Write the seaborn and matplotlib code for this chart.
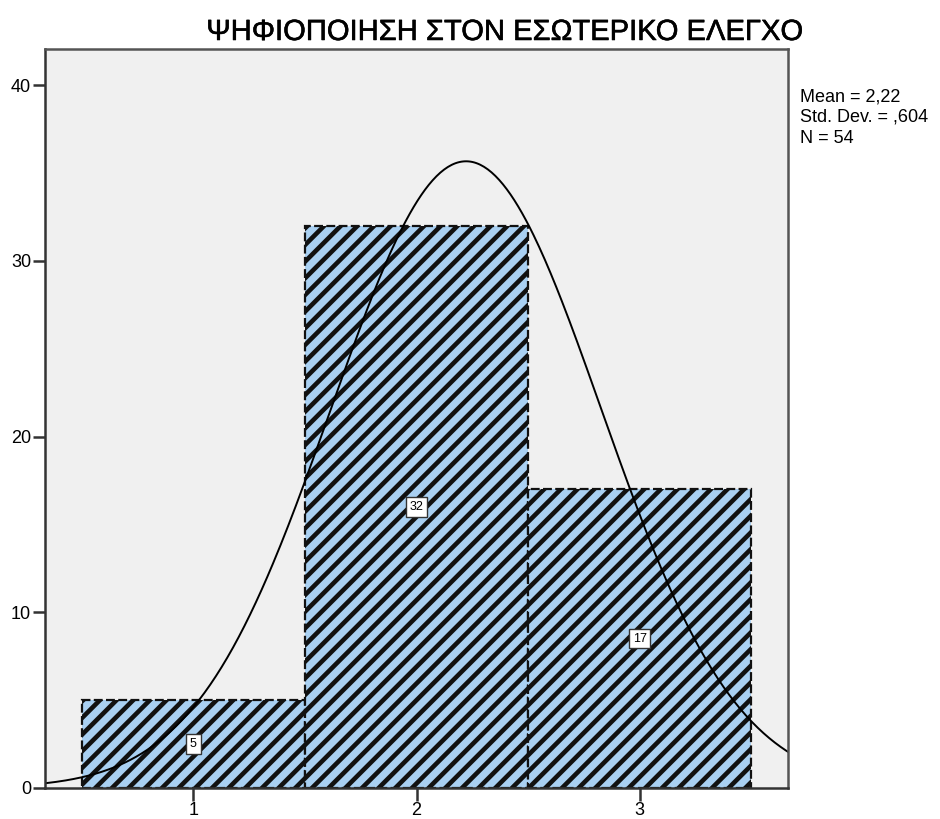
import numpy as np
import pandas as pd
import matplotlib
matplotlib.use("Agg")
import matplotlib.pyplot as plt
import matplotlib.patheffects as pe
import seaborn as sns

# answer categories and their frequencies
categories = [1, 2, 3]
counts = [5, 32, 17]
title = "ΨΗΦΙΟΠΟΙΗΣΗ ΣΤΟΝ ΕΣΩΤΕΡΙΚΟ ΕΛΕΓΧΟ"

df = pd.DataFrame({"value": categories, "count": counts})
n = int(df["count"].sum())
mean = (df["value"] * df["count"]).sum() / n
std = np.sqrt(((df["value"] - mean) ** 2 * df["count"]).sum() / (n - 1))

sns.set_style("white")
plt.rcParams["font.family"] = ["Liberation Sans", "DejaVu Sans"]
plt.rcParams["text.color"] = "black"
plt.rcParams["hatch.linewidth"] = 3.3

fig = plt.figure(figsize=(9.4, 8.19), dpi=100)
ax = fig.add_axes([45 / 940, 1 - 788 / 819, (788 - 45) / 940, (788 - 49) / 819])
ax.set_facecolor("#f0f0f0")

sns.histplot(data=df, x="value", weights="count", discrete=True, ax=ax,
             color="#a9d0f2", alpha=1, edgecolor="#111111", linewidth=1.6,
             linestyle=(0, (4, 1.5)))
for p in ax.patches:
    p.set_hatch("//")
    p.set_facecolor("#a9d0f2")

xs = np.linspace(0.3, 3.7, 400)
ys = n * np.exp(-0.5 * ((xs - mean) / std) ** 2) / (std * np.sqrt(2 * np.pi))
sns.lineplot(x=xs, y=ys, color="black", linewidth=1.4, ax=ax)

for v, c in zip(categories, counts):
    ax.text(v, c / 2, str(c), ha="center", va="center", fontsize=9,
            bbox=dict(boxstyle="square,pad=0.3", facecolor="white",
                      edgecolor="#333333", linewidth=1))

ax.set_xlim(0.335, 3.665)
ax.set_ylim(0, 42.06)
ax.set_xticks(categories)
ax.set_yticks([0, 10, 20, 30, 40])
ax.set_xlabel("")
ax.set_ylabel("")
ax.tick_params(axis="both", direction="out", length=9, width=1.8,
               color="#333333", labelcolor="black", labelsize=13,
               bottom=True, left=True, pad=1)
for s in ax.spines.values():
    s.set_color("#555555")
    s.set_linewidth(1.8)
ax.spines["left"].set_color("#333333")
ax.spines["bottom"].set_color("#333333")

fig.text(504 / 940, 1 - 32 / 819, title, ha="center", va="center",
         fontsize=21,
         path_effects=[pe.withStroke(linewidth=0.4, foreground="black")])
fig.text(800 / 940, 1 - 88 / 819,
         "Mean = 2,22\nStd. Dev. = ,604\nN = 54",
         ha="left", va="top", fontsize=13, linespacing=1.3)

fig.savefig("out.png", dpi=100)
